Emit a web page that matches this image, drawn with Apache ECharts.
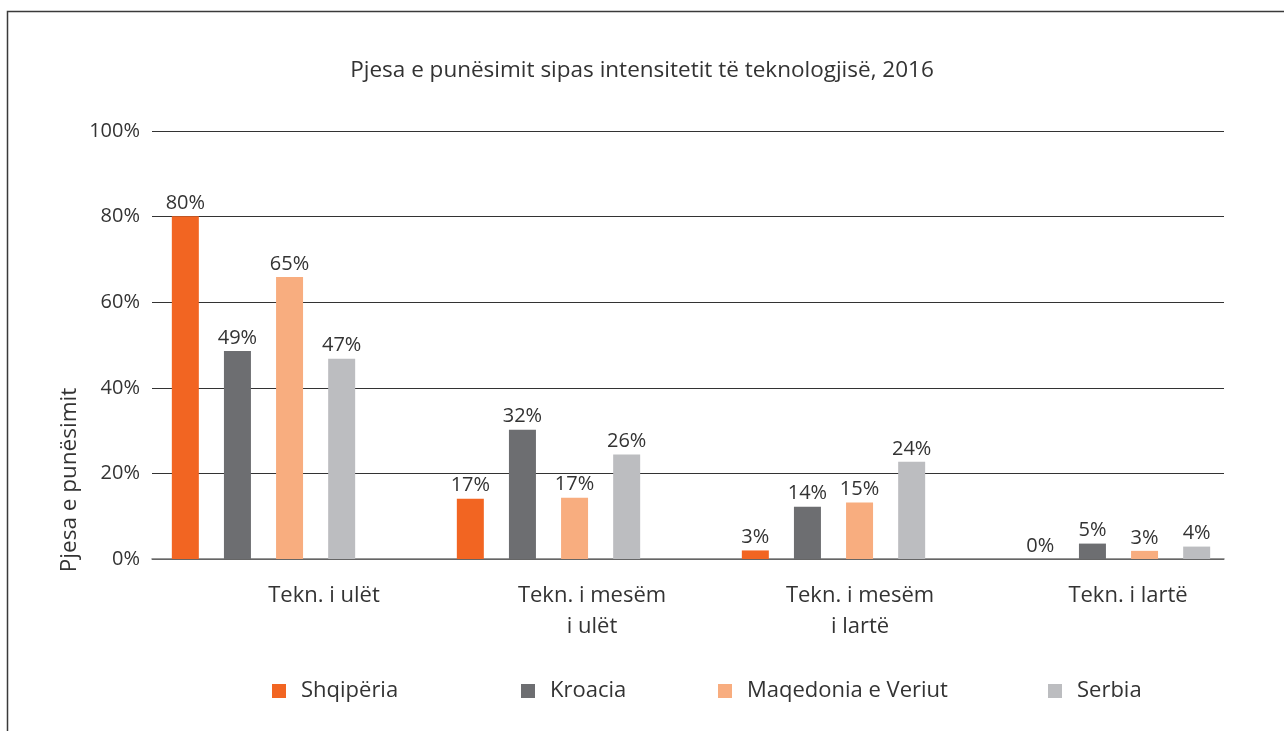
<!DOCTYPE html>
<html>
<head>
<meta charset="utf-8">
<script src="https://cdn.jsdelivr.net/npm/echarts@6/dist/echarts.min.js"></script>
<style>
html,body{margin:0;padding:0;background:#fff;}
#chart{width:1284px;height:731px;}
</style>
</head>
<body>
<div id="chart"></div>
<script>
var titleText = 'Pjesa e punësimit sipas intensitetit të teknologjisë, 2016';
var yAxisTitle = 'Pjesa e punësimit';
var categories = ['Tekn. i ulët', 'Tekn. i mesëm\ni ulët', 'Tekn. i mesëm\ni lartë', 'Tekn. i lartë'];
var seriesNames = ['Shqipëria', 'Kroacia', 'Maqedonia e Veriut', 'Serbia'];
var colors = ['#F26522', '#6D6E71', '#F8AD7F', '#BCBDC0'];
// bar heights as drawn (percent)
var shqiperia = [80.1, 14.1, 2.0, 0];
var kroacia = [48.6, 30.2, 12.2, 3.6];
var maqedonia = [65.9, 14.3, 13.2, 1.9];
var serbia = [46.8, 24.4, 22.7, 2.9];
// label texts as printed
var shqiperiaLabels = ['80%', '17%', '3%', '0%'];
var kroaciaLabels = ['49%', '32%', '14%', '5%'];
var maqedoniaLabels = ['65%', '17%', '15%', '3%'];
var serbiaLabels = ['47%', '26%', '24%', '4%'];
var yTicks = [0, 20, 40, 60, 80, 100];

var values = [shqiperia, kroacia, maqedonia, serbia];
var labelTexts = [shqiperiaLabels, kroaciaLabels, maqedoniaLabels, serbiaLabels];
var FONT = '"Open Sans", "Noto Sans", sans-serif';
var TXT = '#333333';

var chart = echarts.init(document.getElementById('chart'), null, {renderer: 'canvas'});

var series = seriesNames.map(function (name, i) {
  return {
    name: name,
    type: 'bar',
    xAxisIndex: 1,
    yAxisIndex: 1,
    data: values[i],
    barWidth: 27,
    barGap: '93%',
    itemStyle: {color: colors[i]},
    label: {
      show: true,
      position: 'top',
      distance: 3,
      fontFamily: FONT,
      fontSize: 20,
      color: TXT,
      formatter: function (p) { return labelTexts[i][p.dataIndex]; }
    },
    emphasis: {disabled: true},
    animation: false
  };
});

var legendLefts = [272, 521, 718, 1048];
var legends = seriesNames.map(function (name, i) {
  return {
    data: [name],
    left: legendLefts[i],
    top: 680,
    icon: 'rect',
    itemWidth: 14,
    itemHeight: 14,
    itemGap: 0,
    padding: 0,
    selectedMode: false,
    textStyle: {fontFamily: FONT, fontSize: 22, color: TXT, padding: [0, 0, 0, 10]}
  };
});

var option = {
  backgroundColor: '#ffffff',
  animation: false,
  title: {
    text: titleText,
    left: 'center',
    top: 54,
    textStyle: {fontFamily: FONT, fontSize: 22.5, fontWeight: 'normal', color: TXT}
  },
  legend: legends,
  grid: [
    {left: 152, right: 60, top: 131, bottom: 172, containLabel: false},
    {left: 121, width: 1140, top: 131, bottom: 172, containLabel: false}
  ],
  xAxis: [
    {
      type: 'category',
      gridIndex: 0,
      data: categories,
      axisLine: {show: true, lineStyle: {color: '#777777', width: 1.5}},
      axisTick: {show: false},
      axisLabel: {
        fontFamily: FONT, fontSize: 22, color: TXT, lineHeight: 31,
        margin: 21, interval: 0, padding: [0, 0, 0, 76]
      },
      splitLine: {show: false}
    },
    {
      type: 'category',
      gridIndex: 1,
      data: categories,
      show: false
    }
  ],
  yAxis: [
    {
      type: 'value',
      gridIndex: 0,
      min: 0, max: 100, interval: 20,
      axisLine: {show: false},
      axisTick: {show: false},
      axisLabel: {
        fontFamily: FONT, fontSize: 20, color: TXT, margin: 12,
        formatter: function (v) { return yTicks.indexOf(v) >= 0 ? v + '%' : ''; }
      },
      splitLine: {show: true, lineStyle: {color: '#333333', width: 1}}
    },
    {
      type: 'value',
      gridIndex: 1,
      min: 0, max: 100, interval: 20,
      show: false,
      splitLine: {show: false}
    }
  ],
  graphic: [
    {
      type: 'polyline',
      silent: true,
      shape: {points: [[7.5, 731], [7.5, 11.5], [1284, 11.5]]},
      style: {stroke: '#3a3a3a', lineWidth: 1.5, fill: null}
    },
    {
      type: 'text',
      silent: true,
      x: 70,
      y: 480,
      rotation: Math.PI / 2,
      style: {
        text: yAxisTitle,
        font: '22.5px ' + FONT,
        fill: TXT,
        textAlign: 'center',
        textVerticalAlign: 'middle'
      }
    }
  ],
  series: series
};

chart.setOption(option);
</script>
</body>
</html>
